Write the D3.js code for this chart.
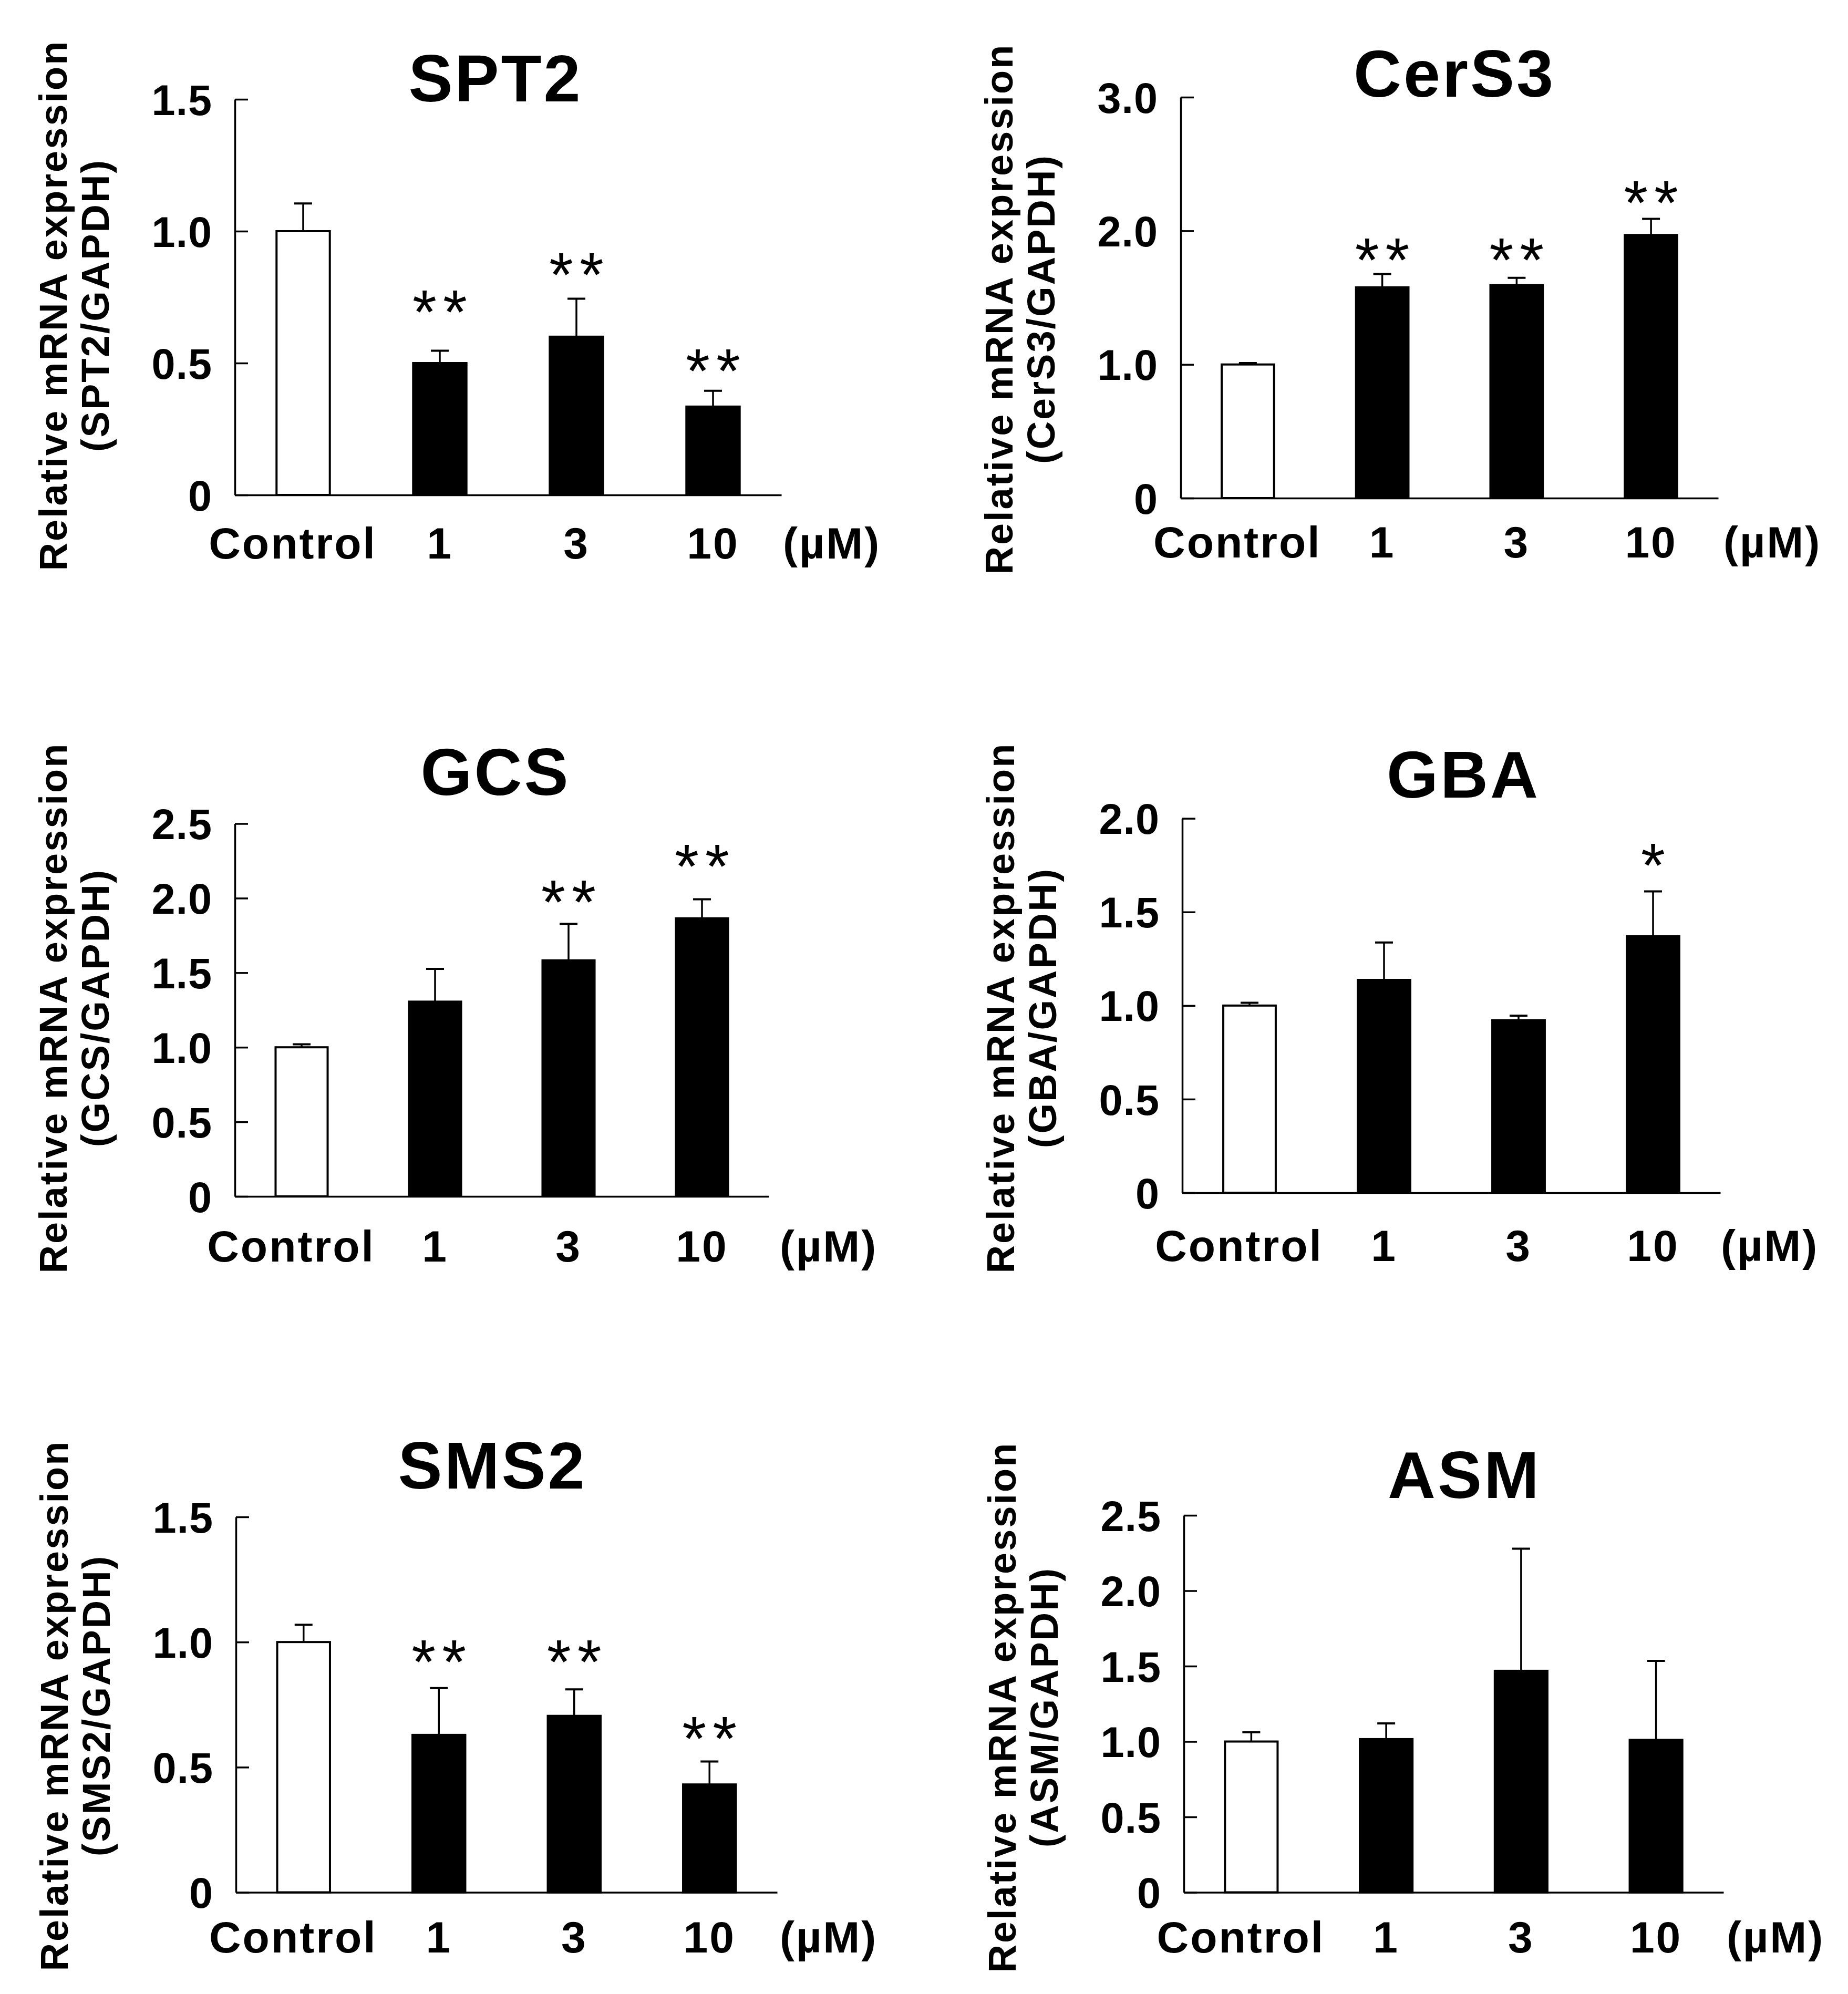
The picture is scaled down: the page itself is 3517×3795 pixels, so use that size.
<!DOCTYPE html>
<html><head><meta charset="utf-8">
<script src="https://cdn.jsdelivr.net/npm/d3@7"></script>
<style>html,body{margin:0;padding:0;background:#fff}</style>
</head><body>
<svg id="chart" width="3517" height="3795"></svg>
<script>
// ---------------- data ----------------
const categories = ["Control", "1", "3", "10"];
const unitLabel = "(µM)";
const yTitle = "Relative mRNA expression";

const spt2Mean  = [1.00, 0.500, 0.600, 0.335];
const spt2Err   = [0.105, 0.047, 0.144, 0.060];
const spt2Sig   = ["", "**", "**", "**"];
const spt2SigAt = [null, 0.733, 0.875, 0.510];
const spt2Ticks = [0, 0.5, 1.0, 1.5];
const spt2TickLabels = ["0", "0.5", "1.0", "1.5"];

const cers3Mean  = [1.00, 1.577, 1.594, 1.969];
const cers3Err   = [0.010, 0.100, 0.054, 0.121];
const cers3Sig   = ["", "**", "**", "**"];
const cers3SigAt = [null, 1.860, 1.860, 2.289];
const cers3Ticks = [0, 1.0, 2.0, 3.0];
const cers3TickLabels = ["0", "1.0", "2.0", "3.0"];

const gcsMean  = [1.00, 1.306, 1.583, 1.865];
const gcsErr   = [0.020, 0.220, 0.245, 0.128];
const gcsSig   = ["", "", "**", "**"];
const gcsSigAt = [null, null, 2.045, 2.283];
const gcsTicks = [0, 0.5, 1.0, 1.5, 2.0, 2.5];
const gcsTickLabels = ["0", "0.5", "1.0", "1.5", "2.0", "2.5"];

const gbaMean  = [1.00, 1.137, 0.922, 1.370];
const gbaErr   = [0.015, 0.200, 0.024, 0.240];
const gbaSig   = ["", "", "", "*"];
const gbaSigAt = [null, null, null, 1.805];
const gbaTicks = [0, 0.5, 1.0, 1.5, 2.0];
const gbaTickLabels = ["0", "0.5", "1.0", "1.5", "2.0"];

const sms2Mean  = [1.00, 0.629, 0.705, 0.431];
const sms2Err   = [0.069, 0.187, 0.106, 0.092];
const sms2Sig   = ["", "**", "**", "**"];
const sms2SigAt = [null, 0.963, 0.963, 0.656];
const sms2Ticks = [0, 0.5, 1.0, 1.5];
const sms2TickLabels = ["0", "0.5", "1.0", "1.5"];

const asmMean  = [1.00, 1.016, 1.469, 1.011];
const asmErr   = [0.062, 0.104, 0.810, 0.524];
const asmSig   = ["", "", "", ""];
const asmSigAt = [null, null, null, null];
const asmTicks = [0, 0.5, 1.0, 1.5, 2.0, 2.5];
const asmTickLabels = ["0", "0.5", "1.0", "1.5", "2.0", "2.5"];

// ---------------- panels (data references) ----------------
const panels = [
  {gene: "SPT2",  mean: spt2Mean,  err: spt2Err,  sig: spt2Sig,  sigAt: spt2SigAt,  ticks: spt2Ticks,  tickLabels: spt2TickLabels},
  {gene: "CerS3", mean: cers3Mean, err: cers3Err, sig: cers3Sig, sigAt: cers3SigAt, ticks: cers3Ticks, tickLabels: cers3TickLabels},
  {gene: "GCS",   mean: gcsMean,   err: gcsErr,   sig: gcsSig,   sigAt: gcsSigAt,   ticks: gcsTicks,   tickLabels: gcsTickLabels},
  {gene: "GBA",   mean: gbaMean,   err: gbaErr,   sig: gbaSig,   sigAt: gbaSigAt,   ticks: gbaTicks,   tickLabels: gbaTickLabels},
  {gene: "SMS2",  mean: sms2Mean,  err: sms2Err,  sig: sms2Sig,  sigAt: sms2SigAt,  ticks: sms2Ticks,  tickLabels: sms2TickLabels},
  {gene: "ASM",   mean: asmMean,   err: asmErr,   sig: asmSig,   sigAt: asmSigAt,   ticks: asmTicks,   tickLabels: asmTickLabels}
];

// ---------------- layout (pixels) ----------------
const layout = [
  {axisX: 447,  axisW: 1040, yTop: 189,    y0: 942,    titleX: 943,  titleY: 193,  labelCY: 581,  xLabelY: 1063, unitX: 1490},
  {axisX: 2247, axisW: 1023, yTop: 185,    y0: 948,    titleX: 2768, titleY: 184,  labelCY: 588,  xLabelY: 1061, unitX: 3280},
  {axisX: 447,  axisW: 1016, yTop: 1567.5, y0: 2277,   titleX: 943,  titleY: 1513, labelCY: 1918, xLabelY: 2401, unitX: 1484},
  {axisX: 2250, axisW: 1024, yTop: 1557.6, y0: 2270,   titleX: 2785, titleY: 1518, labelCY: 1918, xLabelY: 2400, unitX: 3275},
  {axisX: 449,  axisW: 1030, yTop: 2887,   y0: 3601.5, titleX: 937,  titleY: 2833, labelCY: 3246, xLabelY: 3716, unitX: 1484},
  {axisX: 2253, axisW: 1027, yTop: 2884,   y0: 3601.5, titleX: 2787, titleY: 2851, labelCY: 3249, xLabelY: 3716, unitX: 3286}
];

const FONT = "'Liberation Sans', Arial, Helvetica, sans-serif";
const svg = d3.select("#chart");
svg.append("rect").attr("width", 3517).attr("height", 3795).attr("fill", "#fff");

panels.forEach((p, i) => {
  const L = layout[i];
  const g = svg.append("g");
  const yMax = p.ticks[p.ticks.length - 1];

  const x = d3.scaleBand().domain(categories)
    .range([L.axisX, L.axisX + L.axisW])
    .paddingInner(0.61).paddingOuter(0.305);
  const y = d3.scaleLinear().domain([0, yMax]).range([L.y0, L.yTop]);

  const rows = categories.map((c, k) => ({c, k, v: p.mean[k], e: p.err[k], s: p.sig[k], sa: p.sigAt[k]}));

  // bars
  g.selectAll("rect.bar").data(rows).enter().append("rect")
    .attr("class", "bar")
    .attr("x", d => x(d.c))
    .attr("width", x.bandwidth())
    .attr("y", d => y(d.v))
    .attr("height", d => y(0) - y(d.v))
    .attr("fill", d => d.k === 0 ? "#fff" : "#000")
    .attr("stroke", "#000")
    .attr("stroke-width", 4);

  // error bars (upper only)
  const eb = g.selectAll("g.err").data(rows).enter().append("g").attr("class", "err");
  eb.append("line")
    .attr("x1", d => x(d.c) + x.bandwidth() / 2)
    .attr("x2", d => x(d.c) + x.bandwidth() / 2)
    .attr("y1", d => y(d.v))
    .attr("y2", d => y(d.v + d.e))
    .attr("stroke", "#000").attr("stroke-width", 3.5);
  eb.append("line")
    .attr("x1", d => x(d.c) + x.bandwidth() / 2 - 17)
    .attr("x2", d => x(d.c) + x.bandwidth() / 2 + 17)
    .attr("y1", d => y(d.v + d.e))
    .attr("y2", d => y(d.v + d.e))
    .attr("stroke", "#000").attr("stroke-width", 4);

  // significance marks
  g.selectAll("text.sig").data(rows.filter(d => d.s)).enter().append("text")
    .attr("class", "sig")
    .attr("x", d => x(d.c) + x.bandwidth() / 2 + 6)
    .attr("y", d => y(d.sa))
    .attr("dy", "0.52em")
    .attr("text-anchor", "middle")
    .attr("font-family", FONT)
    .attr("font-size", 118)
    .attr("letter-spacing", 12)
    .text(d => d.s);

  // y axis
  const yAxis = d3.axisRight(y).tickValues(p.ticks)
    .tickFormat((d, k) => p.tickLabels[k]).tickSize(25).tickSizeOuter(0);
  const ya = g.append("g").attr("transform", `translate(${L.axisX},0)`).call(yAxis);
  ya.select(".domain").attr("stroke", "#000").attr("stroke-width", 3.5);
  ya.selectAll(".tick line").attr("stroke", "#000").attr("stroke-width", 3.5);
  ya.selectAll(".tick text")
    .attr("x", -43).attr("dy", "0.36em")
    .attr("text-anchor", "end")
    .attr("font-family", FONT).attr("font-weight", "bold").attr("font-size", 81)
    .attr("letter-spacing", 1)
    .attr("fill", "#000");

  // x axis
  const xAxis = d3.axisBottom(x).tickSize(0).tickSizeOuter(0);
  const xa = g.append("g").attr("transform", `translate(0,${L.y0})`).call(xAxis);
  xa.select(".domain").attr("stroke", "#000").attr("stroke-width", 3.5);
  xa.selectAll(".tick text")
    .attr("y", L.xLabelY - L.y0).attr("dy", 0)
    .attr("dx", d => d === categories[0] ? -20 : 0)
    .attr("font-family", FONT).attr("font-weight", "bold").attr("font-size", 84)
    .attr("letter-spacing", 3)
    .attr("fill", "#000");

  // unit label
  g.append("text")
    .attr("x", L.unitX).attr("y", L.xLabelY)
    .attr("font-family", FONT).attr("font-weight", "bold").attr("font-size", 84)
    .attr("letter-spacing", 3)
    .text(unitLabel);

  // title
  g.append("text")
    .attr("x", L.titleX).attr("y", L.titleY)
    .attr("text-anchor", "middle")
    .attr("font-family", FONT).attr("font-weight", "bold").attr("font-size", 126)
    .attr("letter-spacing", 4)
    .text(p.gene);

  // y title (two lines)
  const yt = g.append("text")
    .attr("transform", `translate(${L.axisX - 320},${L.labelCY}) rotate(-90)`)
    .attr("text-anchor", "middle")
    .attr("font-family", FONT).attr("font-weight", "bold").attr("font-size", 74)
    .attr("letter-spacing", 3);
  yt.append("tspan").attr("x", 0).attr("y", 0).text(yTitle);
  yt.append("tspan").attr("x", 0).attr("y", 80).text(`(${p.gene}/GAPDH)`);
});
</script>
</body></html>
